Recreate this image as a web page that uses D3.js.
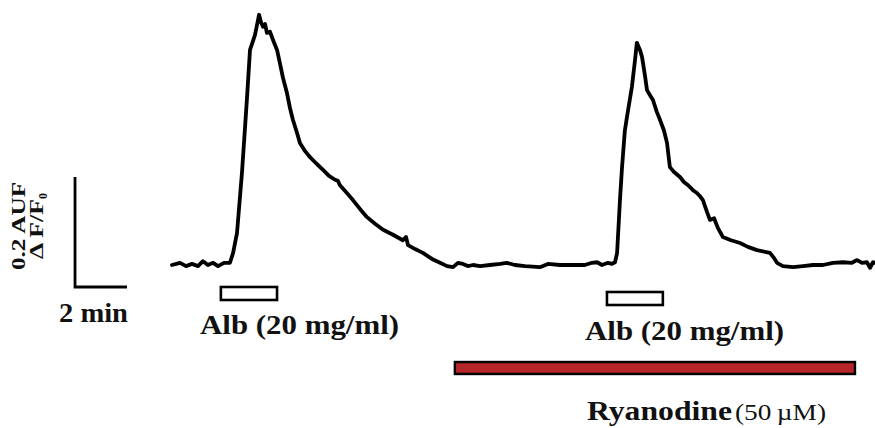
<!DOCTYPE html>
<html>
<head>
<meta charset="utf-8">
<script src="https://cdn.jsdelivr.net/npm/d3@7"></script>
<style>
  html, body { margin: 0; padding: 0; background: #fff; }
  svg { display: block; }
  .lbl { font-family: "Liberation Serif", "Times New Roman", serif; font-weight: bold; fill: #111; }
  .trace { fill: none; stroke: #000; stroke-width: 3.8; stroke-linejoin: round; stroke-linecap: round; }
</style>
</head>
<body>
<div id="chart"></div>
<script>
// time in minutes, fluorescence as ΔF/F0 above baseline
const time = [0, 0.31, 0.54, 0.77, 1.0, 1.19, 1.38, 1.58, 1.77, 2.0, 2.23, 2.35, 2.5, 2.69, 2.88, 3.0, 3.19, 3.35, 3.42, 3.5,
  3.58, 3.65, 3.77, 3.92, 4.04, 4.15, 4.27, 4.42, 4.54, 4.65, 4.81, 4.92, 5.12, 5.31, 5.54, 5.81, 6.04, 6.27, 6.38, 6.46,
  6.65, 6.96, 7.23, 7.5, 7.81, 8.12, 8.5, 8.88, 9.0, 9.08, 9.35, 9.65, 10.0, 10.31, 10.58, 10.81, 11.0, 11.19, 11.38, 11.58,
  11.85, 12.23, 12.62, 12.88, 13.19, 13.58, 14.15, 14.46, 14.92, 15.42, 15.88, 16.15, 16.35, 16.54, 16.77, 16.92, 17.04, 17.12, 17.23, 17.31,
  17.42, 17.5, 17.69, 17.81, 17.88, 18.0, 18.08, 18.19, 18.27, 18.38, 18.5, 18.65, 18.77, 18.92, 19.04, 19.15, 19.31, 19.54, 19.69, 19.85,
  20.04, 20.19, 20.31, 20.42, 20.58, 20.69, 20.85, 21.0, 21.19, 21.5, 21.85, 22.15, 22.5, 22.81, 23.0, 23.15, 23.27, 23.5, 23.88, 24.27,
  24.65, 25.04, 25.42, 25.81, 26.15, 26.35, 26.54, 26.73, 26.85, 26.96, 27.04];
const dff = [0, 0.004, -0.002, 0.002, -0.002, 0.007, 0, 0.004, -0.002, 0.004, 0.004, 0.022, 0.058, 0.167, 0.3, 0.391, 0.418, 0.455, 0.442, 0.433,
  0.438, 0.422, 0.424, 0.405, 0.391, 0.367, 0.34, 0.313, 0.285, 0.264, 0.24, 0.222, 0.207, 0.196, 0.185, 0.173, 0.162, 0.155, 0.153, 0.145,
  0.135, 0.118, 0.102, 0.087, 0.075, 0.064, 0.055, 0.045, 0.051, 0.036, 0.029, 0.022, 0.011, 0.004, -0.002, -0.004, 0.004, 0.002, -0.002, 0,
  -0.002, 0, 0.002, 0.004, 0, -0.002, -0.004, 0.002, 0, 0, 0, 0.004, 0.005, 0, 0.004, 0.002, 0.005, 0.022, 0.118, 0.178,
  0.245, 0.269, 0.324, 0.373, 0.404, 0.391, 0.378, 0.345, 0.318, 0.309, 0.3, 0.278, 0.264, 0.245, 0.222, 0.178, 0.169, 0.16, 0.151, 0.145,
  0.136, 0.131, 0.125, 0.118, 0.096, 0.082, 0.085, 0.067, 0.051, 0.045, 0.04, 0.033, 0.027, 0.024, 0.022, 0.013, 0.004, -0.002, -0.004, -0.002,
  0, 0, 0.004, 0.005, 0.004, 0.009, 0.004, 0.005, -0.005, 0.005, 0.004];

// albumin applications (start, end in minutes)
const albStart = [1.88, 16.73];
const albEnd = [4.04, 18.88];
const albLabels = ["Alb (20 mg/ml)", "Alb (20 mg/ml)"];

// ryanodine exposure
const ryaStart = [10.88];
const ryaEnd = [26.27];

// scale bar
const barMinutes = 2;
const barDff = 0.2;
const barOrigin = [-3.73, -0.04];

const width = 875, height = 428;
const svg = d3.select("#chart").append("svg")
  .attr("width", width).attr("height", height);

const x = d3.scaleLinear().domain([0, 27.04]).range([172, 875]);
const y = d3.scaleLinear().domain([0, 0.2]).range([265, 155]);

const pts = time.map((t, i) => [t, dff[i]]);
const line = d3.line().x(d => x(d[0])).y(d => y(d[1])).curve(d3.curveLinear);

svg.append("path").attr("class", "trace").attr("d", line(pts));

// scale bar
const bx0 = x(barOrigin[0]), by0 = y(barOrigin[1]);
svg.append("path")
  .attr("d", `M${bx0},${y(barOrigin[1] + barDff)}L${bx0},${by0}L${x(barOrigin[0] + barMinutes)},${by0}`)
  .attr("fill", "none").attr("stroke", "#000").attr("stroke-width", 2.8);

svg.append("text").attr("class", "lbl")
  .attr("transform", "translate(25,226) rotate(-90)")
  .attr("text-anchor", "middle").attr("font-size", 19)
  .attr("textLength", 88).attr("lengthAdjust", "spacingAndGlyphs")
  .text("0.2 AUF");

const df = svg.append("text").attr("class", "lbl")
  .attr("transform", "translate(43,193) rotate(-90)")
  .attr("text-anchor", "end").attr("font-size", 19);
df.append("tspan").attr("textLength", 60).attr("lengthAdjust", "spacingAndGlyphs").text("\u0394 F/F");
df.append("tspan").attr("font-size", 12).attr("dy", 4).text("0");

svg.append("text").attr("class", "lbl")
  .attr("x", 59).attr("y", 322).attr("font-size", 28)
  .attr("textLength", 69).attr("lengthAdjust", "spacingAndGlyphs")
  .text(`${barMinutes} min`);

// albumin boxes
const boxY = [287, 292];
const labelY = [334, 340];
const labelX = [200, 585];
albStart.forEach((s, i) => {
  svg.append("rect")
    .attr("x", x(s)).attr("y", boxY[i])
    .attr("width", x(albEnd[i]) - x(s)).attr("height", 13)
    .attr("fill", "#fff").attr("stroke", "#000").attr("stroke-width", 2.6);
  svg.append("text").attr("class", "lbl")
    .attr("x", labelX[i]).attr("y", labelY[i]).attr("font-size", 27)
    .attr("textLength", 199).attr("lengthAdjust", "spacingAndGlyphs")
    .text(albLabels[i]);
});

// ryanodine bar
svg.append("rect")
  .attr("x", x(ryaStart[0])).attr("y", 362)
  .attr("width", x(ryaEnd[0]) - x(ryaStart[0])).attr("height", 12)
  .attr("fill", "#b5262a").attr("stroke", "#000").attr("stroke-width", 2.4);

const rt = svg.append("text").attr("class", "lbl")
  .attr("x", 587).attr("y", 420);
rt.append("tspan").attr("font-size", 27)
  .attr("textLength", 145).attr("lengthAdjust", "spacingAndGlyphs")
  .text("Ryanodine");
rt.append("tspan").attr("font-size", 23).attr("font-weight", "normal").attr("dx", 3)
  .attr("textLength", 91).attr("lengthAdjust", "spacingAndGlyphs")
  .text("(50\u202F\u00B5M)");
</script>
</body>
</html>
